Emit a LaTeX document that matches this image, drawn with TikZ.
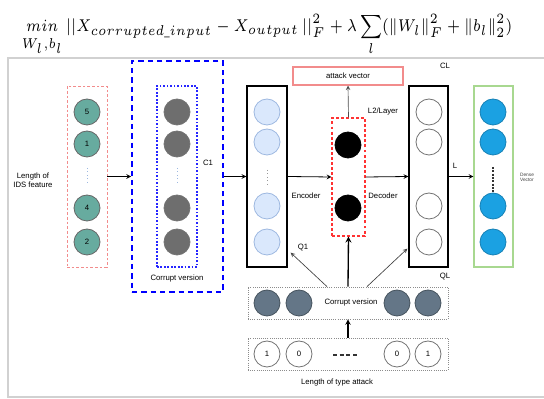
\documentclass[tikz,border=0pt]{standalone}
\usepackage{amsmath}
\usepackage{fontspec}
\setsansfont{Liberation Sans}
\usepackage{xcolor}
\usetikzlibrary{arrows,positioning}

\definecolor{idsteal}{HTML}{67AB9F}
\definecolor{noisegray}{HTML}{6E6E6E}
\definecolor{encblue}{HTML}{DAE8FC}
\definecolor{encline}{HTML}{9DB8E0}
\definecolor{denseblue}{HTML}{1BA1E2}
\definecolor{slate}{HTML}{647687}
\definecolor{softred}{HTML}{F28C8C}
\definecolor{softgreen}{HTML}{A8D890}

\tikzset{
	neuron/.style={circle,draw,minimum size=19.5pt,inner sep=0pt,line width=0.6pt},
	layerbox/.style={draw,rectangle,minimum width=30pt,minimum height=135.75pt,inner sep=0pt},
	wirearrow/.style={-stealth,line width=0.6pt},
}

\begin{document}
\begin{tikzpicture}[x=0.75pt,y=-0.75pt,
	every node/.style={font=\sffamily\fontsize{5.8}{6.6}\selectfont}]
	\useasboundingbox (0,0) rectangle (544,399);
	\draw[black!18,line width=1.3pt] (8,58) rectangle (550,397);

	% objective
	\node (loss) at (267,35) {\resizebox{368pt}{!}{\scalebox{1}[1.22]{$\displaystyle \underset{W_l,b_l}{min\rule[-1.5pt]{0pt}{0pt}}\, ||X_{corrupted\_input}-X_{output}\,||_F^2 +\lambda \sum_l (\|W_l\|_F^2+\|b_l\|_2^2)$}}};

	% input features
	\node[layerbox,draw=softred,dashed,dash pattern=on 2pt off 1.5pt,line width=0.7pt] (inp) at (87,176.5) {};
	\foreach \y/\n [count=\i] in {112/5,144/1,208/4,242/2}
		\node[neuron,fill=idsteal,draw=black!60] (in\i) at (87,\y) {\n};
	\draw[encline,dotted,line width=0.6pt] (87,168) -- (87,185);
	\node[align=center] (idslabel) at (33,180) {Length of\\IDS feature};

	% corrupted input
	\node[draw=blue,dash pattern=on 4pt off 3pt,line width=1.4pt,minimum width=68.25pt,minimum height=173.25pt] (cbox) at (177.5,176.5) {};
	\node[layerbox,draw=blue!85,dash pattern=on 1.3pt off 1.3pt,line width=0.9pt] (cin) at (177,176.5) {};
	\foreach \y [count=\i] in {112,144,208,242}
		\node[neuron,fill=noisegray,draw=black!55] (cn\i) at (177,\y) {};
	\draw[encline,dotted,line width=0.6pt] (177,168) -- (177,185);
	\node (c1) at (208,163) {C1};
	\node (cvlabel) at (177,279) {Corrupt version};

	% encoder
	\node[layerbox,line width=1pt] (enc) at (267,176.5) {};
	\foreach \y [count=\i] in {112,142,206,242}
		\node[neuron,fill=encblue,draw=encline] (en\i) at (267,\y) {};
	\draw[black!40,dotted,line width=0.6pt] (267,170) -- (267,184);
	\node (enclabel) at (306,196) {Encoder};

	% bottleneck
	\node[draw=red!80,dashed,dash pattern=on 2.2pt off 1.6pt,line width=0.8pt,minimum width=24.75pt,minimum height=88.5pt] (mid) at (348.5,177) {};
	\node[neuron,fill=black] (hid1) at (348,145) {};
	\node[neuron,fill=black] (hid2) at (348,208) {};
	\node[draw=softred,line width=0.8pt,minimum width=82.5pt,minimum height=13.5pt] (atk) at (348,76) {attack vector};
	\node (l2) at (383,112) {L2/Layer};
	\node (declabel) at (383,196) {Decoder};

	% decoder output
	\node[layerbox,line width=1pt,minimum width=29.25pt] (out) at (428.5,176.5) {};
	\foreach \y [count=\i] in {112,142,206,242}
		\node[neuron,fill=white,draw=black!55] (on\i) at (429,\y) {};
	\node (cl) at (445,66) {CL};
	\node (lname) at (455,166) {L};

	% dense vector
	\node[layerbox,draw=softgreen,line width=0.8pt,minimum width=29.25pt] (dense) at (493.5,176.5) {};
	\foreach \y [count=\i] in {112,142,206,242}
		\node[neuron,fill=denseblue,draw=denseblue!80!black] (dn\i) at (493,\y) {};
	\draw[black!80,dashed,dash pattern=on 1.5pt off 1pt,line width=0.9pt] (493,167) -- (493,192);
	\node[align=left,text=black!75,font=\sffamily\fontsize{3.6}{4.2}\selectfont] (denselabel) at (527,177.5) {Dense\\Vector};

	% attack type rows
	\node[draw=black!45,densely dotted,line width=0.6pt,minimum width=150pt,minimum height=24pt] (cv) at (348,303) {};
	\foreach \x [count=\i] in {267,299,397,428}
		\node[neuron,fill=slate,draw=slate!70!black] (sv\i) at (\x,303) {};
	\node (cvtext) at (351,303) {Corrupt version};
	\node[draw=black!45,densely dotted,line width=0.6pt,minimum width=150pt,minimum height=24pt] (tv) at (348,354) {};
	\foreach \x/\b [count=\i] in {267/1,299/0,397/0,428/1}
		\node[neuron,fill=white,draw=black!55] (tb\i) at (\x,354) {\b};
	\draw[black!80,dashed,dash pattern=on 3pt off 2pt,line width=0.9pt] (333,355) -- (358,355);
	\node (tvlabel) at (337,383) {Length of type attack};
	\node (q1) at (303,248) {Q1};
	\node (ql) at (445,277) {QL};

	% connections
	\draw[wirearrow] (inp.east) -- (cbox.west);
	\draw[wirearrow] (cbox.east) -- (enc.west);
	\draw[wirearrow] (enc.east) -- (mid.west);
	\draw[wirearrow] (mid.east) -- (out.west);
	\draw[wirearrow] (out.east) -- (dense.west);
	\draw[wirearrow,black!70,line width=0.5pt] (mid.north) -- (atk.south);
	\draw[wirearrow,line width=1pt] (cv.north) -- (mid.south);
	\draw[wirearrow,line width=0.8pt] (tv.north) -- (cv.south);
	\draw[wirearrow,black!75,line width=0.5pt] ([xshift=-15.75pt]cv.north) -- ([xshift=2.25pt,yshift=11.25pt]enc.south east);
	\draw[wirearrow,black!75,line width=0.5pt] ([xshift=14.25pt]cv.north) -- ([xshift=-0.75pt,yshift=14.25pt]out.south west);
\end{tikzpicture}
\end{document}
